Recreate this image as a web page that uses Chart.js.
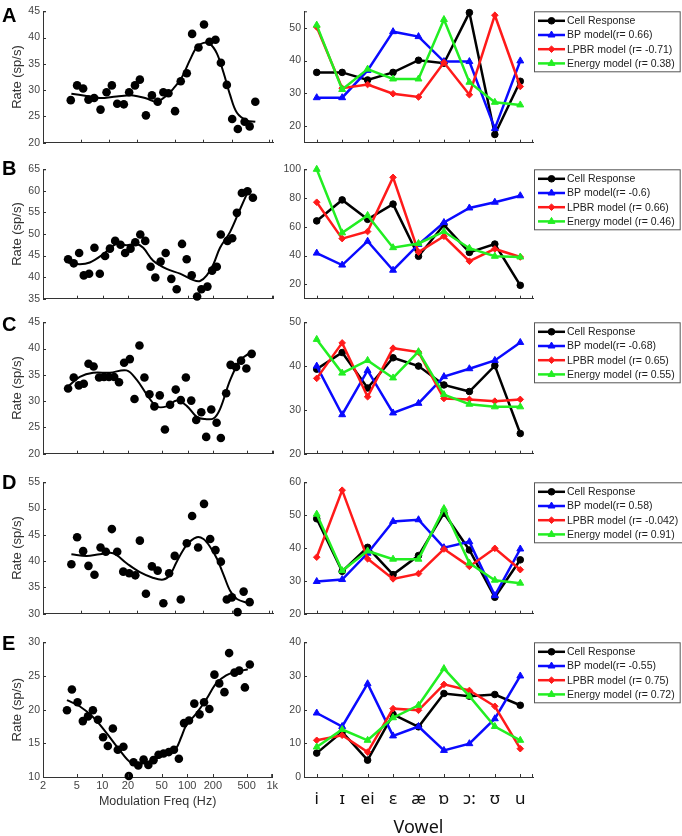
<!DOCTYPE html>
<html>
<head>
<meta charset="utf-8">
<script src="https://cdn.jsdelivr.net/npm/chart.js@4.4.1/dist/chart.umd.min.js"></script>
<style>
  html, body { margin: 0; padding: 0; background: #fff; width: 682px; height: 836px; overflow: hidden; }
  body { position: relative; }
  canvas { position: absolute; }
  .panel-letter { position: absolute; left: 2px; font: bold 20px "Liberation Sans", Arial, sans-serif; line-height: 1; color: #000; }
</style>
</head>
<body>
<script>
// --- modulation transfer functions (left column) ---
const freqTicks = [2, 5, 10, 20, 50, 100, 200, 500, 1000];
const freqTickLabels = ['2', '5', '10', '20', '50', '100', '200', '500', '1k'];

const freqA = [3.94,4.6,5.33,6.07,6.98,8.15,9.44,10.75,12.25,14.4,16.4,18.9,21.3,24.7,28.6,32.9,37.8,42.8,50.3,57.8,67,76.3,89.1,102,116.6,135,154,178,203,233,275,311,357];
const rateA = [28.1,30.9,30.3,28.2,28.5,26.3,29.6,30.9,27.4,27.3,29.6,30.9,32.0,25.2,29.0,27.8,29.6,29.4,26.0,31.7,33.2,40.7,38.1,42.5,39.2,39.6,35.2,31.0,24.5,22.6,24.0,23.1,27.8];
const fitFreqA = [4.0,5.78,8.0,12.05,18.1,25.1,32.1,41,48.3,59.3,72.6,85.5,100.7,116.6,139.6,164.5,193.6,228,291,357];
const fitRateA = [29.3,28.9,28.5,28.8,29.0,28.4,27.8,29.0,30.3,32.4,35.8,38.2,39.0,38.9,37.0,33.3,29.0,25.7,24.2,24.0];

const freqB = [3.94,4.59,5.31,6.02,6.95,8.03,9.28,10.7,12.2,14.06,16.25,18.4,21.3,24.2,27.7,31.7,36.6,41.6,48.0,55.0,64.1,74.1,85.6,97.1,111.2,128.6,144.5,170,193,219,244,292,332,377,431,502,581];
const rateB = [44.15,43.2,45.6,40.4,40.8,46.8,40.8,44.9,46.6,48.4,47.5,45.6,46.6,48.1,49.9,48.4,42.4,39.9,43.6,45.6,39.6,37.2,47.7,44.15,40.4,35.5,37.2,37.8,41.5,42.4,49.9,48.4,49.0,54.9,59.5,59.9,58.4];
const fitFreqB = [3.94,5.40,7.08,10.16,14.6,19.1,25.1,30.0,39.3,56.5,81.1,116.4,139.4,167,200,239,314,412,516];
const fitRateB = [43.4,43.0,43.4,45.3,47.7,47.4,47.7,46.8,43.8,41.9,40.8,39.3,39.1,40.4,43.0,46.8,50.5,55.8,60.1];

const freqC = [3.94,4.59,5.26,6.02,6.84,7.85,9.1,10.4,11.9,13.7,15.6,17.9,20.9,23.7,27.1,31.0,35.5,40.6,46.9,53.9,61.9,72.2,82.8,95.0,109.8,125.6,144,164.5,188.6,217.8,244.3,282,318,368,422,487,562];
const rateC = [32.4,34.5,33.0,33.3,37.1,36.6,34.5,34.6,34.6,34.6,33.6,37.3,38.0,30.4,40.6,34.5,31.3,29.0,31.1,24.6,29.3,32.2,30.2,34.5,30.1,26.4,27.9,23.2,28.4,25.9,23.0,31.5,36.9,36.5,37.7,36.2,39.0];
const fitFreqC = [3.94,5.4,7.75,12.2,19.1,25.1,32.9,43.1,56.5,74.1,97.1,127.4,159.6,200,239,314,412,516];
const fitRateC = [32.8,34.6,35.4,35.4,35.85,34.1,31.3,29.0,29.0,30.1,29.1,27.0,26.6,26.7,28.5,34.0,37.8,39.0];

const freqD = [4.0,4.6,5.33,6.07,7.03,8.15,9.28,10.75,12.25,14.2,16.4,19.05,21.3,24.7,28.6,32.9,37.8,43.5,49.9,57.8,67,76.3,88.4,102,118.6,135,154,178,201.6,231.6,268.5,311];
const rateD = [39.4,44.55,41.9,39.1,37.4,42.6,41.8,46.1,41.8,38.0,37.7,37.3,43.9,33.8,39.0,38.2,32.0,37.7,41.0,32.7,43.4,48.6,42.6,50.9,44.2,42.1,39.9,32.7,33.1,30.3,34.2,32.2];
const fitFreqD = [4.0,5.78,8.0,11.1,15.4,21.3,29.6,37.8,44.5,52.4,67,85.5,100.7,118.6,139.6,164.5,193.6,228,303];
const fitRateD = [41.3,41.0,41.3,41.5,39.6,37.9,36.8,36.5,37.4,39.9,43.1,44.55,44.2,42.7,40.5,37.4,34.3,32.8,32.0];

const freqE = [3.83,4.38,5.1,5.89,6.77,7.74,8.87,10.2,11.6,13.3,15.2,17.7,20.5,23.3,26.5,30.6,34.8,40.0,45.9,52.6,60.6,69.6,79.6,91.5,104.8,121,139.5,157.6,182,208.8,238,274,311,360,409,477,545];
const rateE = [19.9,23.0,21.1,18.3,19.0,19.9,18.5,15.9,14.6,17.2,14.05,14.5,10.15,12.2,11.7,12.6,11.8,12.5,13.3,13.5,13.7,14.05,12.7,18.0,18.4,20.9,19.3,21.1,20.1,25.2,23.9,22.6,28.4,25.5,25.8,23.3,26.7];
const fitFreqE = [3.83,5.4,7.75,11.1,15.96,21.9,30,43.1,61.8,74.1,84.8,97.1,127.4,167,219,287,377,516];
const fitRateE = [21.4,20.5,18.9,16.6,14.0,12.1,12.0,12.7,13.7,14.3,15.9,17.65,19.4,21.5,23.9,25.1,25.6,26.0];

// --- vowel responses (right column) ---
const vowels = ['i', 'ɪ', 'ei', 'ɛ', 'æ', 'ɒ', 'ɔ:', 'ʊ', 'u'];

const cellA   = [36.4,36.4,34.1,36.4,40.1,39.2,54.6,17.5,33.7];
const bpA     = [28.7,28.7,37.0,48.8,47.3,39.7,39.7,19.3,39.9];
const lpbrA   = [50.2,31.6,32.7,29.9,28.9,39.4,29.6,53.8,32.1];
const energyA = [50.8,31.2,37.4,34.4,34.4,52.5,33.4,27.3,26.5];

const cellB   = [64.1,78.7,65.2,75.8,39.5,61.4,42.2,48.0,19.3];
const bpB     = [41.7,33.4,50.0,29.8,47.8,63.0,73.1,77.1,81.6];
const lpbrB   = [77.1,51.8,56.7,94.4,42.4,53.4,36.1,44.6,39.0];
const energyB = [100,55.8,67.9,45.5,48.4,56.7,45.1,39.5,39.0];

const cellC   = [39.3,43.1,35.0,41.9,40.0,35.7,34.2,40.1,24.6];
const bpC     = [40.0,28.9,39.0,29.3,31.5,37.6,39.4,41.3,45.4];
const lpbrC   = [37.2,45.3,33.0,44.1,43.2,32.6,32.4,32.0,32.4];
const energyC = [46.1,38.4,41.3,37.3,43.3,33.5,31.3,30.7,30.7];

const cellD   = [48.9,32.9,40.2,31.9,37.7,50.6,39.4,25.0,36.4];
const bpD     = [29.8,30.4,38.4,48.1,48.6,40.1,41.9,25.5,39.7];
const lpbrD   = [37.2,57.6,36.7,30.6,32.2,39.7,34.4,39.9,33.4];
const energyD = [50.3,33.1,39.1,36.6,36.6,52.0,35.4,30.2,29.3];

const cellE   = [7.1,13.4,5.0,18.6,14.9,24.8,24.0,24.5,21.3];
const bpE     = [19.0,15.0,27.7,12.2,15.0,7.9,9.9,17.3,30.0];
const lpbrE   = [10.9,12.4,7.4,20.3,19.8,27.5,25.7,21.0,8.4];
const energyE = [8.9,14.1,10.9,17.6,21.3,32.2,24.0,15.0,10.9];

const legendA = ['Cell Response', 'BP model(r= 0.66)', 'LPBR model (r= -0.71)', 'Energy model (r= 0.38)'];
const legendB = ['Cell Response', 'BP model(r= -0.6)', 'LPBR model (r= 0.66)', 'Energy model (r= 0.46)'];
const legendC = ['Cell Response', 'BP model(r= -0.68)', 'LPBR model (r= 0.65)', 'Energy model (r= 0.55)'];
const legendD = ['Cell Response', 'BP model(r= 0.58)', 'LPBR model (r= -0.042)', 'Energy model (r= 0.91)'];
const legendE = ['Cell Response', 'BP model(r= -0.55)', 'LPBR model (r= 0.75)', 'Energy model (r= 0.72)'];

// y tick values of the vowel panels
const vowelTicksA = [20, 30, 40, 50];
const vowelTicksB = [20, 40, 60, 80, 100];
const vowelTicksC = [20, 30, 40, 50];
const vowelTicksD = [20, 30, 40, 50, 60];
const vowelTicksE = [0, 10, 20, 30, 40];

// ── layout ──────────────────────────────────────────────────────────────────
const FONT = '"Liberation Sans", Arial, sans-serif';
const IPA_FONT = '"Noto Sans", "DejaVu Sans", sans-serif';
const AXIS = '#333';
const TICK_TXT = '#444';

const rowTop    = [10, 168, 321, 481, 641];
const rowBottom = [146, 302, 457, 617, 777];
const letterBase = [22, 175, 331, 489, 650];
const PAD_TOP = 8;

Chart.defaults.font.family = FONT;

// MATLAB style ticks pointing into the axes
const innerTicks = {
  id: 'innerTicks',
  afterDraw(chart) {
    const { ctx, chartArea: a, scales: { x, y } } = chart;
    ctx.save();
    ctx.strokeStyle = AXIS;
    ctx.lineWidth = 1;
    ctx.beginPath();
    x.ticks.forEach((t, i) => {
      const px = Math.round(x.getPixelForTick(i)) + 0.5;
      ctx.moveTo(px, a.bottom); ctx.lineTo(px, a.bottom - 3);
    });
    ctx.moveTo(a.right - 0.5, a.bottom); ctx.lineTo(a.right - 0.5, a.bottom - 3);
    y.ticks.forEach((t, i) => {
      const py = Math.round(y.getPixelForTick(i)) + 0.5;
      ctx.moveTo(a.left, py); ctx.lineTo(a.left + 3, py);
    });
    ctx.moveTo(a.left, a.top + 0.5); ctx.lineTo(a.left + 3, a.top + 0.5);
    ctx.stroke();
    ctx.restore();
  }
};

// boxed legend next to the axes, line + marker samples
const boxLegend = {
  id: 'boxLegend',
  afterDraw(chart) {
    const { ctx, chartArea: a } = chart;
    const sets = chart.data.datasets;
    ctx.save();
    ctx.font = '10.5px ' + FONT;
    const textW = Math.max(...sets.map(d => ctx.measureText(d.label).width));
    const x0 = a.right + 1, y0 = a.top;
    const w = Math.max(139, 33 + textW + 5), h = 60;
    ctx.fillStyle = '#fff';
    ctx.fillRect(x0, y0, w, h);
    ctx.strokeStyle = '#555';
    ctx.lineWidth = 1;
    ctx.strokeRect(x0 + 0.5, y0 + 0.5, w, h);
    sets.forEach((d, i) => {
      const yy = y0 + 9.5 + i * 14.2;
      ctx.strokeStyle = d.borderColor;
      ctx.lineWidth = 2.5;
      ctx.beginPath(); ctx.moveTo(x0 + 4, yy); ctx.lineTo(x0 + 31, yy); ctx.stroke();
      ctx.fillStyle = d.borderColor;
      ctx.lineWidth = 1;
      Chart.helpers.drawPoint(ctx, { pointStyle: d.pointStyle, rotation: 0, radius: d.pointRadius, borderWidth: 1 }, x0 + 17.5, yy);
      ctx.fillStyle = '#222';
      ctx.textBaseline = 'middle';
      ctx.fillText(d.label, x0 + 33, yy + 0.5);
    });
    ctx.restore();
  }
};

function addCanvas(left, top, w, h) {
  const cv = document.createElement('canvas');
  cv.width = w; cv.height = h;
  cv.style.left = left + 'px';
  cv.style.top = top + 'px';
  cv.style.width = w + 'px';
  cv.style.height = h + 'px';
  document.body.appendChild(cv);
  return cv;
}

function mtfChart(row, freq, rate, fitFreq, fitRate, yMin, yMax, xMax, last) {
  const bottomH = last ? 35 : 6;
  const h = rowBottom[row] - rowTop[row] + PAD_TOP + bottomH;
  const cv = addCanvas(0, rowTop[row] - PAD_TOP, 280, h);
  new Chart(cv, {
    type: 'scatter',
    data: {
      datasets: [
        { data: freq.map((f, i) => ({ x: f, y: rate[i] })), pointRadius: 4.3, pointBackgroundColor: '#000',
          pointBorderWidth: 0, showLine: false, clip: false, order: 1 },
        { data: fitFreq.map((f, i) => ({ x: f, y: fitRate[i] })), showLine: true, pointRadius: 0,
          borderColor: '#000', borderWidth: 2, tension: 0.35, clip: false, order: 0 }
      ]
    },
    options: {
      responsive: false, animation: false, events: [],
      layout: { padding: { top: PAD_TOP, right: 7, left: 0, bottom: 0 } },
      plugins: { legend: { display: false }, tooltip: { enabled: false } },
      scales: {
        x: {
          type: 'logarithmic', min: 2, max: xMax,
          afterBuildTicks: s => { s.ticks = freqTicks.filter(v => v <= xMax).map(v => ({ value: v })); },
          afterFit: s => { s.height = bottomH; },
          grid: { display: false, drawTicks: false },
          border: { color: AXIS },
          ticks: {
            display: last, autoSkip: false, maxRotation: 0, padding: 2,
            color: TICK_TXT, font: { size: 11 },
            callback: v => freqTickLabels[freqTicks.indexOf(v)]
          },
          title: { display: last, text: 'Modulation Freq (Hz)', color: '#333',
                   font: { size: 12.5 }, padding: { top: 0, bottom: 3 } }
        },
        y: {
          min: yMin, max: yMax,
          afterFit: s => { s.width = 43; },
          grid: { display: false, drawTicks: false },
          border: { color: AXIS },
          ticks: { stepSize: 5, padding: 3, color: TICK_TXT, font: { size: 10.5 } },
          title: { display: true, text: 'Rate (sp/s)', color: '#333', font: { size: 13 },
                   padding: { top: 10, bottom: 0 } }
        }
      }
    },
    plugins: [innerTicks]
  });
}

function vowelChart(row, cell, bp, lpbr, energy, labels, yMin, yMax, yTicks, last) {
  const bottomH = last ? 65 : 6;
  const h = rowBottom[row] - rowTop[row] + PAD_TOP + bottomH;
  const cv = addCanvas(280, rowTop[row] - PAD_TOP, 402, h);
  const line = (label, data, color, style, r, order) => ({
    label, data, borderColor: color, backgroundColor: color, pointBackgroundColor: color,
    pointBorderColor: color, pointStyle: style, pointRadius: r, pointBorderWidth: 1,
    borderWidth: 2.5, tension: 0, clip: false, order
  });
  new Chart(cv, {
    type: 'line',
    data: {
      labels: vowels,
      datasets: [
        line(labels[0], cell, '#000000', 'circle', 3.3, 3),
        line(labels[1], bp, '#0a0aff', 'triangle', 4, 2),
        line(labels[2], lpbr, '#ff1a1a', 'rectRot', 3.3, 1),
        line(labels[3], energy, '#22ee22', 'triangle', 4, 0)
      ]
    },
    options: {
      responsive: false, animation: false, events: [],
      layout: { padding: { top: PAD_TOP, right: 149, left: 0, bottom: 0 } },
      plugins: { legend: { display: false }, tooltip: { enabled: false } },
      scales: {
        x: {
          type: 'category', offset: true,
          afterFit: s => { s.height = bottomH; },
          grid: { display: false, drawTicks: false },
          border: { color: AXIS },
          ticks: { display: last, autoSkip: false, maxRotation: 0, padding: 12,
                   color: '#111', font: { family: IPA_FONT, size: 17 } },
          title: { display: last, text: 'Vowel', color: '#111',
                   font: { family: IPA_FONT, size: 18 }, padding: { top: 0, bottom: 3 } }
        },
        y: {
          min: yMin, max: yMax,
          afterBuildTicks: s => { s.ticks = yTicks.map(v => ({ value: v })); },
          afterFit: s => { s.width = 24; },
          grid: { display: false, drawTicks: false },
          border: { color: AXIS },
          ticks: { padding: 3, color: TICK_TXT, font: { size: 10.5 } }
        }
      }
    },
    plugins: [innerTicks, boxLegend]
  });
}

mtfChart(0, freqA, rateA, fitFreqA, fitRateA, 20, 45, 550, false);
mtfChart(1, freqB, rateB, fitFreqB, fitRateB, 35, 65, 1000, false);
mtfChart(2, freqC, rateC, fitFreqC, fitRateC, 20, 45, 1000, false);
mtfChart(3, freqD, rateD, fitFreqD, fitRateD, 30, 55, 550, false);
mtfChart(4, freqE, rateE, fitFreqE, fitRateE, 10, 30, 1000, true);

vowelChart(0, cellA, bpA, lpbrA, energyA, legendA, 15, 55, vowelTicksA, false);
vowelChart(1, cellB, bpB, lpbrB, energyB, legendB, 10, 100, vowelTicksB, false);
vowelChart(2, cellC, bpC, lpbrC, energyC, legendC, 20, 50, vowelTicksC, false);
vowelChart(3, cellD, bpD, lpbrD, energyD, legendD, 20, 60, vowelTicksD, false);
vowelChart(4, cellE, bpE, lpbrE, energyE, legendE, 0, 40, vowelTicksE, true);

['A', 'B', 'C', 'D', 'E'].forEach((p, i) => {
  const d = document.createElement('div');
  d.className = 'panel-letter';
  d.textContent = p;
  d.style.top = (letterBase[i] - 17) + 'px';
  document.body.appendChild(d);
});
</script>
</body>
</html>
